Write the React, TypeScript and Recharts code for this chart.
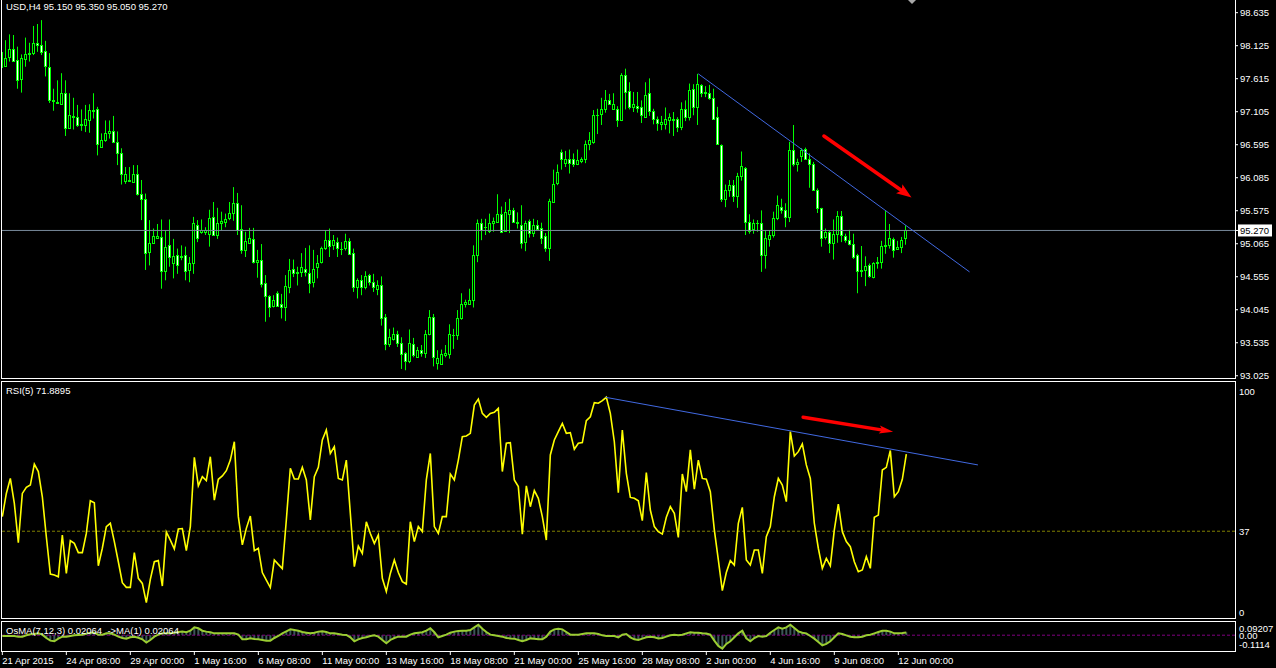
import { ComposedChart, Bar, Line, XAxis, YAxis, ReferenceLine } from "recharts"

// USD H4 candles, 21 Apr 2015 .. 12 Jun 2015 08:00
const open = [
    98.03, 97.81, 97.95, 98.07, 97.91, 97.61, 97.92, 97.99, 98.01, 98.16,
    98.13, 98.04, 97.80, 97.29, 97.25, 97.23, 97.39, 96.85, 97.04, 97.02,
    96.92, 96.90, 96.98, 97.11, 97.14, 96.56, 96.67, 96.77, 96.80, 96.64,
    96.47, 96.04, 96.05, 96.02, 96.15, 95.84, 95.75, 94.94, 95.08, 95.16,
    95.17, 94.65, 95.04, 94.76, 94.89, 94.87, 94.89, 94.66, 94.76, 95.35,
    95.24, 95.24, 95.22, 95.48, 95.20, 95.38, 95.40, 95.47, 95.54, 95.70,
    95.30, 94.97, 95.08, 95.14, 94.78, 94.82, 94.46, 94.25, 94.10, 94.31,
    94.14, 94.08, 94.39, 94.68, 94.61, 94.63, 94.68, 94.61, 94.47, 94.70,
    94.78, 95.00, 95.13, 95.04, 95.09, 94.99, 95.00, 95.10, 94.92, 94.39,
    94.50, 94.39, 94.58, 94.47, 94.37, 94.42, 93.94, 93.52, 93.60, 93.67,
    93.53, 93.37, 93.26, 93.52, 93.32, 93.42, 93.37, 93.67, 93.93, 93.22,
    93.20, 93.34, 93.36, 93.65, 93.65, 93.92, 94.14, 94.14, 94.19, 94.89,
    95.38, 95.33, 95.26, 95.39, 95.40, 95.52, 95.26, 95.53, 95.58, 95.40,
    95.35, 95.09, 95.41, 95.23, 95.36, 95.31, 95.18, 95.00, 95.71, 96.01,
    96.48, 96.31, 96.37, 96.37, 96.30, 96.35, 96.37, 96.60, 96.64, 97.05,
    97.07, 97.14, 97.28, 97.15, 97.15, 96.98, 97.67, 97.42, 97.18, 97.19,
    97.17, 97.03, 97.39, 97.11, 96.99, 96.91, 96.91, 96.98, 96.99, 96.99,
    96.87, 97.15, 97.02, 97.45, 97.17, 97.51, 97.41, 97.39, 97.32, 97.02,
    96.59, 95.75, 95.89, 95.97, 95.81, 96.11, 96.23, 95.40, 95.29, 95.39,
    95.38, 94.89, 95.14, 95.20, 95.47, 95.63, 95.59, 95.48, 96.52, 96.29,
    96.42, 96.53, 96.38, 96.29, 95.89, 95.61, 95.17, 95.24, 95.07, 95.22,
    95.50, 95.19, 95.13, 95.06, 94.89, 94.66, 94.66, 94.73, 94.55, 94.76,
    94.78, 95.03, 95.04, 95.14, 94.99, 95.02, 95.15,
]
const high = [
    98.55, 98.21, 98.30, 98.29, 98.11, 97.99, 98.25, 98.17, 98.43, 98.46,
    98.52, 98.20, 98.01, 97.46, 97.59, 97.70, 97.59, 97.39, 97.32, 97.21,
    97.14, 97.21, 97.22, 97.39, 97.18, 96.77, 96.97, 96.97, 97.04, 96.80,
    96.54, 96.25, 96.25, 96.28, 96.28, 96.05, 95.84, 95.43, 95.30, 95.37,
    95.44, 95.27, 95.44, 95.14, 94.99, 95.04, 95.02, 94.86, 95.48, 95.43,
    95.44, 95.32, 95.59, 95.71, 95.62, 95.56, 95.53, 95.71, 95.94, 95.85,
    95.66, 95.25, 95.31, 95.31, 94.97, 95.06, 94.58, 94.27, 94.27, 94.33,
    94.29, 94.58, 94.83, 94.82, 94.71, 94.92, 95.00, 95.04, 94.97, 94.89,
    95.02, 95.27, 95.30, 95.20, 95.16, 95.09, 95.22, 95.15, 94.99, 94.53,
    94.58, 94.64, 94.60, 94.60, 94.50, 94.56, 93.98, 93.75, 93.77, 93.72,
    93.62, 93.39, 93.74, 93.61, 93.47, 93.50, 93.73, 94.04, 93.98, 93.42,
    93.43, 93.50, 93.82, 93.75, 94.04, 94.30, 94.20, 94.37, 95.04, 95.44,
    95.45, 95.45, 95.53, 95.47, 95.83, 95.64, 95.71, 95.76, 95.62, 95.55,
    95.66, 95.42, 95.44, 95.45, 95.43, 95.39, 95.23, 95.76, 96.21, 96.29,
    96.52, 96.50, 96.52, 96.46, 96.52, 96.40, 96.66, 96.79, 97.13, 97.15,
    97.32, 97.44, 97.38, 97.39, 97.19, 97.70, 97.77, 97.56, 97.41, 97.41,
    97.28, 97.56, 97.62, 97.15, 97.03, 97.04, 97.17, 97.08, 97.10, 97.02,
    97.25, 97.28, 97.54, 97.53, 97.69, 97.53, 97.50, 97.52, 97.46, 97.18,
    96.60, 95.98, 96.05, 96.05, 96.16, 96.49, 96.25, 95.52, 95.44, 95.43,
    95.58, 95.27, 95.27, 95.56, 95.81, 95.76, 95.69, 96.64, 96.90, 96.38,
    96.54, 96.55, 96.46, 96.33, 95.92, 95.62, 95.30, 95.27, 95.44, 95.57,
    95.57, 95.22, 95.28, 95.22, 94.91, 95.03, 94.87, 94.76, 94.78, 94.86,
    95.11, 95.57, 95.37, 95.16, 95.11, 95.17, 95.35,
]
const low = [
    97.61, 97.80, 97.88, 97.88, 97.46, 97.40, 97.80, 97.88, 97.98, 98.03,
    97.98, 97.65, 97.24, 97.12, 97.23, 97.23, 96.73, 96.85, 96.83, 96.87,
    96.81, 96.79, 96.78, 97.00, 96.43, 96.56, 96.64, 96.69, 96.62, 96.28,
    95.98, 95.99, 96.02, 96.02, 95.81, 95.43, 94.66, 94.73, 95.07, 95.16,
    94.37, 94.50, 94.71, 94.53, 94.60, 94.81, 94.50, 94.47, 94.60, 95.09,
    95.22, 95.20, 95.02, 95.20, 95.14, 95.27, 95.32, 95.43, 95.42, 95.20,
    94.91, 94.86, 95.07, 94.76, 94.54, 94.39, 93.86, 93.93, 94.08, 94.10,
    93.91, 93.87, 94.30, 94.55, 94.42, 94.55, 94.56, 94.30, 94.39, 94.53,
    94.76, 94.97, 94.86, 94.97, 94.86, 94.89, 94.96, 94.89, 94.32, 94.22,
    94.27, 94.36, 94.42, 94.32, 94.27, 93.80, 93.42, 93.47, 93.57, 93.47,
    93.13, 93.11, 93.22, 93.31, 93.30, 93.32, 93.30, 93.65, 93.17, 93.12,
    93.20, 93.31, 93.29, 93.44, 93.58, 93.89, 94.08, 94.13, 94.08, 94.78,
    95.12, 95.20, 95.23, 95.25, 95.40, 95.23, 95.25, 95.23, 95.39, 95.30,
    94.99, 94.95, 95.16, 95.17, 95.27, 95.06, 94.94, 94.80, 95.71, 95.97,
    96.21, 96.25, 96.15, 96.25, 96.28, 96.31, 96.31, 96.51, 96.61, 96.76,
    96.90, 97.09, 97.21, 97.14, 96.87, 96.96, 97.14, 97.14, 97.10, 97.09,
    96.93, 97.03, 97.04, 96.91, 96.81, 96.82, 96.83, 96.77, 96.73, 96.79,
    96.82, 96.96, 96.97, 97.05, 96.90, 97.33, 97.33, 97.29, 96.98, 96.60,
    95.71, 95.63, 95.79, 95.71, 95.62, 96.04, 95.20, 95.22, 95.22, 95.25,
    94.63, 94.68, 95.02, 95.16, 95.43, 95.53, 95.32, 95.40, 96.26, 96.18,
    96.33, 96.37, 95.93, 95.90, 95.54, 95.02, 95.13, 94.92, 94.82, 95.08,
    95.09, 95.08, 95.04, 94.83, 94.30, 94.55, 94.41, 94.54, 94.53, 94.68,
    94.68, 94.91, 94.99, 94.85, 94.97, 94.92, 95.05,
]
const close = [
    97.80, 97.94, 98.07, 97.89, 97.60, 97.93, 97.99, 98.01, 98.16, 98.13,
    98.02, 97.81, 97.29, 97.27, 97.24, 97.40, 96.86, 97.06, 97.02, 96.90,
    96.90, 96.99, 97.13, 97.13, 96.60, 96.67, 96.77, 96.80, 96.64, 96.46,
    96.15, 96.15, 96.03, 96.15, 95.84, 95.75, 94.92, 95.07, 95.18, 95.18,
    94.65, 95.02, 94.86, 94.87, 94.73, 94.86, 94.65, 94.76, 95.38, 95.16,
    95.27, 95.27, 95.47, 95.20, 95.39, 95.41, 95.44, 95.54, 95.69, 95.27,
    94.97, 95.11, 95.16, 94.78, 94.82, 94.45, 94.25, 94.08, 94.20, 94.11,
    94.08, 94.41, 94.66, 94.61, 94.63, 94.70, 94.63, 94.46, 94.68, 94.76,
    95.00, 95.13, 95.03, 95.12, 95.00, 94.98, 95.10, 94.91, 94.39, 94.50,
    94.39, 94.56, 94.47, 94.39, 94.42, 93.92, 93.52, 93.62, 93.67, 93.53,
    93.36, 93.26, 93.53, 93.34, 93.43, 93.38, 93.67, 93.93, 93.31, 93.30,
    93.36, 93.37, 93.67, 93.66, 93.92, 94.14, 94.16, 94.19, 94.89, 95.38,
    95.27, 95.32, 95.38, 95.41, 95.52, 95.25, 95.55, 95.58, 95.40, 95.38,
    95.07, 95.38, 95.23, 95.35, 95.29, 95.16, 95.00, 95.72, 95.99, 96.18,
    96.38, 96.37, 96.31, 96.30, 96.36, 96.37, 96.60, 96.67, 97.06, 97.05,
    97.14, 97.29, 97.23, 97.22, 96.98, 97.67, 97.41, 97.18, 97.22, 97.16,
    97.05, 97.37, 97.12, 97.00, 96.93, 96.94, 96.99, 97.02, 96.98, 96.87,
    97.15, 97.02, 97.44, 97.17, 97.53, 97.39, 97.39, 97.32, 97.00, 96.60,
    95.75, 95.89, 95.98, 95.81, 96.11, 96.26, 95.40, 95.26, 95.39, 95.38,
    94.89, 95.16, 95.20, 95.47, 95.66, 95.59, 95.48, 96.52, 96.29, 96.33,
    96.51, 96.38, 96.30, 95.90, 95.61, 95.16, 95.25, 95.07, 95.22, 95.49,
    95.20, 95.13, 95.06, 94.86, 94.65, 94.65, 94.72, 94.57, 94.77, 94.79,
    95.03, 95.04, 95.16, 94.97, 95.02, 95.13, 95.27,
]
const rsi = [
    43.6, 54.1, 60.9, 49.6, 31.8, 54.1, 56.9, 57.9, 67.4, 64.0,
    52.6, 34.5, 17.6, 17.2, 16.4, 35.3, 17.9, 32.7, 31.5, 27.3,
    27.3, 36.0, 50.8, 49.9, 21.4, 29.3, 39.1, 40.6, 32.3, 23.2,
    13.7, 11.6, 11.6, 27.3, 15.7, 13.4, 4.7, 15.2, 23.2, 23.7,
    12.2, 36.7, 33.0, 29.0, 38.0, 38.2, 28.2, 39.1, 70.4, 57.5,
    61.7, 59.9, 70.7, 51.1, 60.5, 62.0, 64.4, 69.2, 77.5, 43.6,
    30.8, 38.3, 43.9, 28.2, 29.3, 18.3, 14.9, 11.5, 24.0, 22.0,
    20.1, 42.1, 65.5, 60.6, 60.6, 65.9, 60.2, 42.1, 61.7, 65.9,
    78.3, 82.8, 72.2, 75.3, 60.9, 60.2, 69.2, 45.1, 21.0, 30.3,
    27.0, 41.3, 36.0, 31.5, 35.3, 15.7, 9.7, 17.9, 24.0, 18.3,
    14.2, 13.1, 41.3, 32.3, 39.1, 36.8, 60.2, 72.2, 39.1, 36.0,
    43.6, 43.6, 62.9, 60.2, 69.2, 79.8, 80.1, 81.3, 94.1, 96.8,
    90.3, 88.5, 90.3, 90.8, 92.6, 64.0, 76.8, 77.1, 60.2, 57.2,
    35.7, 57.5, 48.1, 55.4, 51.9, 43.6, 33.0, 71.5, 78.3, 82.1,
    85.8, 81.3, 81.6, 74.1, 76.8, 77.1, 87.0, 88.8, 95.2, 94.9,
    96.1, 97.6, 90.3, 77.5, 54.4, 82.8, 63.2, 52.3, 51.9, 50.8,
    41.8, 63.5, 46.6, 39.1, 36.8, 35.7, 43.3, 48.1, 45.1, 34.2,
    62.9, 54.9, 73.8, 56.0, 69.2, 60.9, 60.5, 54.9, 37.6, 24.0,
    10.1, 18.3, 23.7, 21.7, 40.6, 47.8, 24.0, 21.7, 28.5, 28.5,
    17.9, 34.5, 39.1, 52.6, 60.9, 57.9, 50.4, 82.1, 71.0, 73.0,
    76.5, 67.0, 60.9, 40.6, 29.3, 20.2, 24.7, 21.3, 37.6, 49.3,
    36.8, 32.3, 30.0, 23.2, 18.7, 19.5, 25.5, 20.2, 43.3, 44.3,
    64.7, 65.9, 73.5, 52.6, 54.9, 60.5, 71.9,
]
const osma = [
    -0.006, -0.006, -0.006, -0.006, -0.011, -0.011, -0.001, 0.007, 0.009, 0.014,
    0.004, -0.021, -0.041, -0.046, -0.026, -0.011, -0.011, -0.006, -0.001, 0.002,
    0.004, 0.012, 0.019, 0.019, 0.004, 0.004, 0.014, 0.014, 0.004, -0.011,
    -0.021, -0.026, -0.016, -0.011, -0.019, -0.031, -0.056, -0.036, -0.011, 0.004,
    0.014, 0.014, 0.014, 0.019, 0.024, 0.027, 0.022, 0.034, 0.059, 0.052,
    0.034, 0.027, 0.022, 0.014, 0.014, 0.014, 0.014, 0.014, 0.014, 0.004,
    -0.031, -0.031, -0.024, -0.029, -0.031, -0.036, -0.041, -0.041, -0.021, -0.006,
    0.014, 0.029, 0.044, 0.039, 0.034, 0.024, 0.019, 0.014, 0.019, 0.027,
    0.029, 0.024, 0.014, 0.014, 0.009, 0.004, 0.002, -0.016, -0.046, -0.031,
    -0.021, -0.016, -0.006, -0.001, -0.011, -0.036, -0.061, -0.036, -0.021, -0.011,
    -0.011, -0.011, 0.004, 0.014, 0.019, 0.022, 0.034, 0.052, 0.022, -0.016,
    -0.006, 0.004, 0.019, 0.027, 0.032, 0.034, 0.034, 0.039, 0.059, 0.079,
    0.049, 0.024, 0.004, -0.001, -0.006, -0.011, -0.021, -0.024, -0.026, -0.036,
    -0.046, -0.036, -0.024, -0.026, -0.031, -0.031, -0.011, 0.027, 0.044, 0.049,
    0.044, 0.024, 0.004, 0.004, 0.004, 0.009, 0.014, 0.014, 0.014, 0.009,
    -0.001, -0.006, -0.006, -0.006, -0.016, 0.004, 0.009, -0.016, -0.031, -0.036,
    -0.026, -0.016, -0.011, -0.016, -0.024, -0.021, -0.011, -0.001, 0.004, -0.001,
    0.004, 0.014, 0.022, 0.019, 0.019, 0.014, 0.012, 0.004, -0.041, -0.081,
    -0.101, -0.066, -0.046, -0.016, 0.014, 0.034, -0.024, -0.046, -0.021, -0.006,
    -0.011, -0.006, 0.019, 0.039, 0.059, 0.049, 0.059, 0.079, 0.054, 0.029,
    0.019, 0.014, -0.006, -0.026, -0.051, -0.076, -0.066, -0.046, -0.016, 0.014,
    0.009, -0.001, -0.011, -0.016, -0.016, -0.011, -0.001, 0.004, 0.014, 0.024,
    0.034, 0.034, 0.027, 0.014, 0.014, 0.017, 0.021,
]

const timeTickIdx = [0, 16, 32, 48, 64, 80, 96, 112, 128, 144, 160, 176, 192, 208, 224]
const timeTickLabels = [
    "21 Apr 2015", "24 Apr 08:00", "29 Apr 00:00", "1 May 16:00", "6 May 08:00",
    "11 May 00:00", "13 May 16:00", "18 May 08:00", "21 May 00:00", "25 May 16:00",
    "28 May 08:00", "2 Jun 00:00", "4 Jun 16:00", "9 Jun 08:00", "12 Jun 00:00",
]
const priceTicks = [98.635, 98.125, 97.615, 97.105, 96.595, 96.085, 95.575, 95.065, 94.555, 94.045, 93.535, 93.025]
const rsiTicks = [0, 37, 100]
const osmaTicks = [-0.1114, 0, 0.09207]
const osmaTickLabels = ["-0.1114", "0.00", "0.09207"]

// drawn objects (bar index / value)
const priceTrend = [{ x: 174, y: 97.69 }, { x: 241.8, y: 94.63 }]
const priceArrow = [{ x: 205.4, y: 96.73 }, { x: 227.3, y: 95.78 }]
const rsiTrend = [{ x: 150.8, y: 97.6 }, { x: 243.9, y: 67.0 }]
const rsiArrow = [{ x: 200.2, y: 88.6 }, { x: 222.7, y: 82.0 }]

const lastClose = close[close.length - 1]

const X_DOMAIN: [number, number] = [-0.333, 308.17]
const FONT = '"Liberation Sans", Arial, sans-serif'
const FS = 9.5

const rows = open.map((o, i) => ({
    i,
    o,
    h: high[i],
    l: low[i],
    c: close[i],
    range: [low[i], high[i]],
    rsi: rsi[i],
    osma: osma[i],
}))

function Candle(props: any) {
    const { x, y, width, height, payload } = props
    if (!payload || x == null) return null
    const top = Math.min(y, y + height)
    const bot = Math.max(y, y + height)
    const span = payload.h - payload.l
    const py = (p: number) => (span === 0 ? top : top + ((payload.h - p) / span) * (bot - top))
    const cx = Math.floor(x + width / 2) + 0.5
    const bTop = Math.round(py(Math.max(payload.o, payload.c))) + 0.5
    const bBot = Math.round(py(Math.min(payload.o, payload.c))) + 0.5
    const bull = payload.c >= payload.o
    return (
        <g>
            <line x1={cx} x2={cx} y1={top} y2={bot} stroke="#00ff00" strokeWidth={1} />
            {bBot - bTop < 1 ? (
                <line x1={cx - 1.5} x2={cx + 1.5} y1={bTop} y2={bTop} stroke="#00ff00" strokeWidth={1} />
            ) : (
                <rect x={cx - 1} y={bTop} width={2} height={bBot - bTop} fill={bull ? "#000" : "#fff"} stroke="#00ff00" strokeWidth={1} />
            )}
        </g>
    )
}

const arrowShape = (headLen: number, headW: number) => (p: any) => {
    const { x1, y1, x2, y2 } = p
    const dx = x2 - x1
    const dy = y2 - y1
    const len = Math.hypot(dx, dy) || 1
    const ux = dx / len
    const uy = dy / len
    const bx = x2 - ux * headLen
    const by = y2 - uy * headLen
    const nx = -uy * headW / 2
    const ny = ux * headW / 2
    return (
        <g>
            <line x1={x1} y1={y1} x2={bx + ux * 2} y2={by + uy * 2} stroke="#ff0000" strokeWidth={3.5} strokeLinecap="round" />
            <polygon points={`${x2},${y2} ${bx + nx},${by + ny} ${bx + ux * 3},${by + uy * 3} ${bx - nx},${by - ny}`} fill="#ff0000" />
        </g>
    )
}

function YTick(props: any) {
    const { x, y, payload, fmt, minY, maxY, tag } = props
    const yy = Math.min(Math.max(y, minY ?? -1e9), maxY ?? 1e9)
    const label = fmt ? fmt(payload.value) : String(payload.value)
    if (tag) {
        return (
            <g>
                <rect x={x - 2} y={yy - 6} width={34} height={12} fill="#fff" />
                <text x={x} y={yy} dy="0.35em" fill="#000" fontSize={FS} fontFamily={FONT}>{label}</text>
            </g>
        )
    }
    return (
        <text x={x} y={yy} dy="0.35em" fill="#fff" fontSize={FS} fontFamily={FONT} textAnchor="start">{label}</text>
    )
}

function TimeTick(props: any) {
    const { x, y, payload } = props
    const k = timeTickIdx.indexOf(payload.value)
    return (
        <text x={x} y={y + 6.7} fill="#fff" fontSize={FS} fontFamily={FONT} textAnchor="start">
            {k >= 0 ? timeTickLabels[k] : ""}
        </text>
    )
}

const frame = (top: number, height: number): React.CSSProperties => ({
    position: "absolute",
    left: 1,
    top,
    width: 1235,
    height,
    border: "1px solid #fff",
    boxSizing: "border-box",
    pointerEvents: "none",
})

const title = (top: number): React.CSSProperties => ({
    position: "absolute",
    left: 6,
    top,
    color: "#fff",
    font: `${FS}px ${FONT}`,
    lineHeight: "11px",
    whiteSpace: "pre",
})

export default function App() {
    return (
        <div style={{ position: "absolute", left: 0, top: 0, width: 1276, height: 668, background: "#000", overflow: "hidden" }}>
            {/* price window */}
            <div style={{ position: "absolute", left: 0, top: 0 }}>
                <ComposedChart width={1276} height={380} data={rows} margin={{ top: 0, right: 0, bottom: 1, left: 1 }}>
                    <XAxis dataKey="i" type="number" domain={X_DOMAIN} allowDataOverflow hide />
                    <YAxis
                        orientation="right"
                        width={41}
                        domain={[92.975, 98.831]}
                        allowDataOverflow
                        ticks={[...priceTicks, lastClose]}
                        interval={0}
                        axisLine={false}
                        tickLine={{ stroke: "#fff" }}
                        tickSize={3}
                        tickMargin={2}
                        tick={(p: any) => (
                            <YTick {...p} tag={p.payload.value === lastClose} fmt={(v: number) => v.toFixed(3)} />
                        )}
                    />
                    <ReferenceLine y={lastClose} stroke="#778899" />
                    <Bar dataKey="range" barSize={3} shape={<Candle />} isAnimationActive={false} />
                    <ReferenceLine segment={priceTrend} stroke="#4169e1" strokeWidth={1} />
                    <ReferenceLine segment={priceArrow} shape={arrowShape(15, 11)} />
                </ComposedChart>
            </div>
            <svg style={{ position: "absolute", left: 905, top: 0 }} width={14} height={6}>
                <polygon points="3,0 11,0 7,4" fill="#a9a9a9" />
            </svg>

            {/* RSI window */}
            <div style={{ position: "absolute", left: 0, top: 380 }}>
                <ComposedChart width={1276} height={242} data={rows} margin={{ top: 2, right: 0, bottom: 4, left: 1 }}>
                    <XAxis dataKey="i" type="number" domain={X_DOMAIN} allowDataOverflow hide />
                    <YAxis
                        orientation="right"
                        width={41}
                        domain={[-2.26, 104.52]}
                        allowDataOverflow
                        ticks={rsiTicks}
                        interval={0}
                        axisLine={false}
                        tickLine={false}
                        tickSize={2}
                        tickMargin={2}
                        tick={(p: any) => <YTick {...p} minY={8.3} />}
                    />
                    <ReferenceLine y={37} stroke="#808000" strokeDasharray="3 2" />
                    <Line dataKey="rsi" type="linear" stroke="#ffff00" strokeWidth={1.6} dot={false} isAnimationActive={false} />
                    <ReferenceLine segment={rsiTrend} stroke="#4169e1" strokeWidth={1} />
                    <ReferenceLine segment={rsiArrow} shape={arrowShape(14, 8)} />
                </ComposedChart>
            </div>

            {/* OsMA window + time axis */}
            <div style={{ position: "absolute", left: 0, top: 620 }}>
                <ComposedChart width={1276} height={48} data={rows} margin={{ top: 2, right: 0, bottom: 0, left: 1 }}>
                    <XAxis
                        dataKey="i"
                        type="number"
                        domain={X_DOMAIN}
                        allowDataOverflow
                        ticks={timeTickIdx}
                        interval={0}
                        height={17}
                        axisLine={false}
                        tickLine={{ stroke: "#fff" }}
                        tickSize={4}
                        tickMargin={2}
                        tick={<TimeTick />}
                    />
                    <YAxis
                        orientation="right"
                        width={41}
                        domain={[-0.1191, 0.0995]}
                        allowDataOverflow
                        ticks={osmaTicks}
                        interval={0}
                        axisLine={false}
                        tickLine={false}
                        tickSize={2}
                        tickMargin={2}
                        tick={(p: any) => (
                            <YTick {...p} minY={8.3} maxY={25} fmt={(v: number) => osmaTickLabels[osmaTicks.indexOf(v)] ?? String(v)} />
                        )}
                    />
                    <ReferenceLine y={0} stroke="#800080" strokeDasharray="3 2" />
                    <Bar dataKey="osma" barSize={2} fill="#3b5757" isAnimationActive={false} />
                    <Line dataKey="osma" type="linear" stroke="#9acd32" strokeWidth={2} dot={false} isAnimationActive={false} />
                </ComposedChart>
            </div>

            <div style={frame(-1, 380)} />
            <div style={frame(381, 238)} />
            <div style={frame(621, 31)} />

            <div style={title(0.7)}>USD,H4 95.150 95.350 95.050 95.270</div>
            <div style={title(385.2)}>RSI(5) 71.8895</div>
            <div style={title(624.5)}>OsMA(7,12,3) 0.02064  -&gt;MA(1) 0.02064</div>
        </div>
    )
}
